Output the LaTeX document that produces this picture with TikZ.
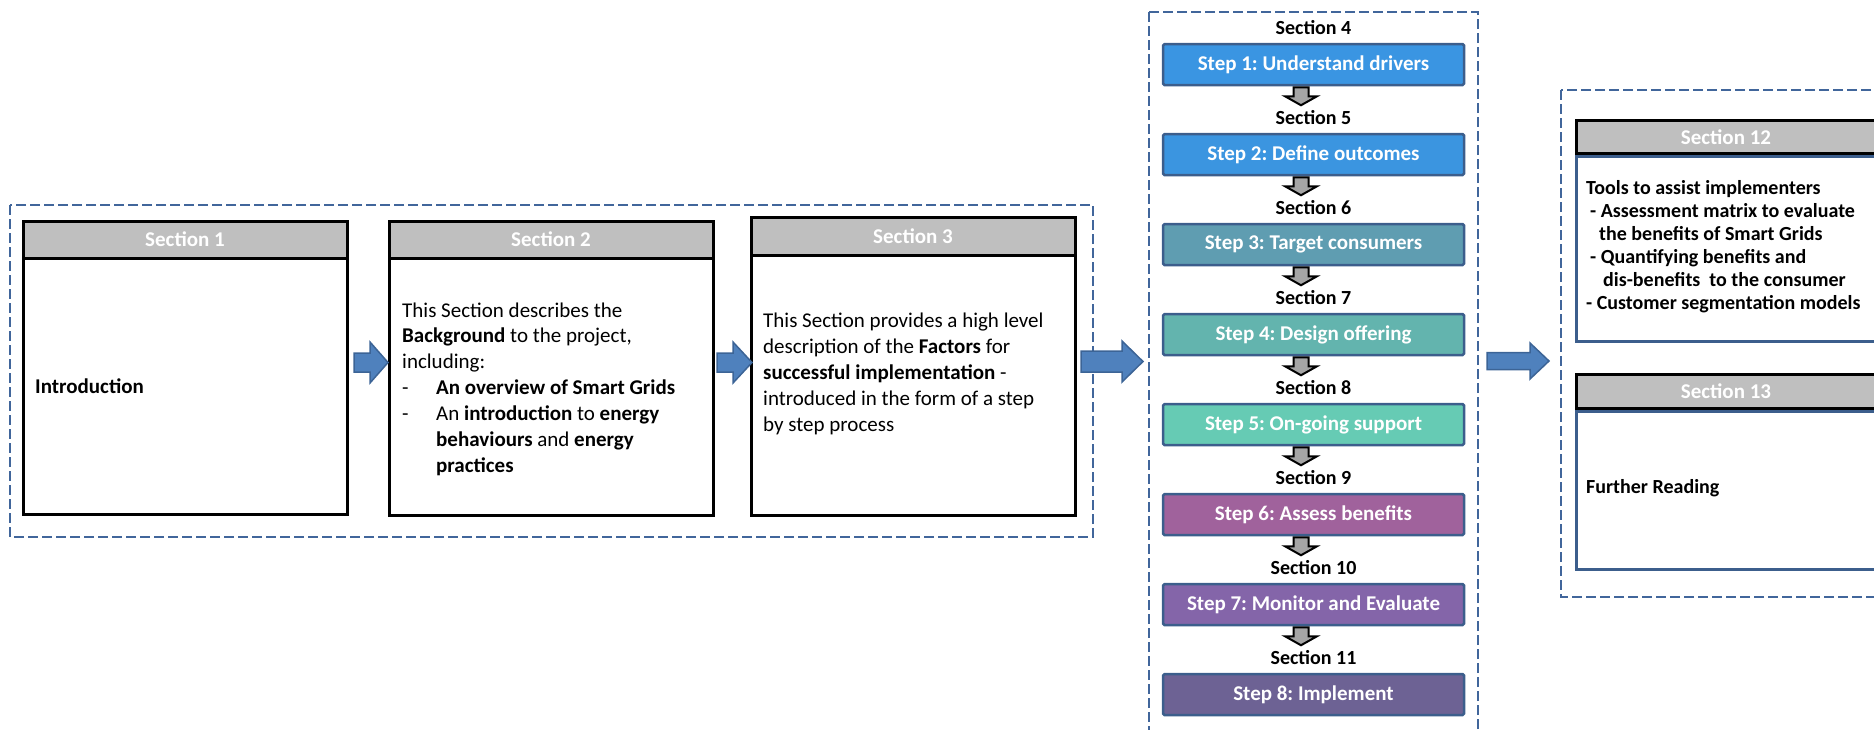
\documentclass[tikz,border=0pt]{standalone}
\usepackage{fontspec}
\setmainfont{Carlito}
\usetikzlibrary{calc}
\frenchspacing

\definecolor{dashblue}{HTML}{41669B}
\definecolor{headgrey}{HTML}{BFBFBF}
\definecolor{arrowblue}{HTML}{4F81BD}
\definecolor{arrowedge}{HTML}{3C6496}
\definecolor{stepedge}{HTML}{3C5E8C}
\definecolor{downgrey}{HTML}{A5A5A5}
\definecolor{stepA}{HTML}{3A95E2}
\definecolor{stepB}{HTML}{3B95E0}
\definecolor{stepC}{HTML}{5F9DB1}
\definecolor{stepD}{HTML}{63B4AE}
\definecolor{stepE}{HTML}{66CBB4}
\definecolor{stepF}{HTML}{A0629C}
\definecolor{stepG}{HTML}{8465A9}
\definecolor{stepH}{HTML}{6D6294}

% right-pointing block arrow: tail x, head base x, tip x, centre y, body half, head half
\newcommand\rblock[6]{%
  \draw[bluearrow] (#1,{#4-#5}) -- (#2,{#4-#5}) -- (#2,{#4-#6}) -- (#3,#4)
    -- (#2,{#4+#6}) -- (#2,{#4+#5}) -- (#1,{#4+#5}) -- cycle;}

\begin{document}
\begin{tikzpicture}[x=1pt,y=-1pt,
  groupbox/.style={draw=dashblue, line width=2.5pt, dash pattern=on 10pt off 4pt},
  secbody/.style={draw=black, line width=3pt, fill=white, inner sep=0pt},
  secbodyblue/.style={draw=stepedge, line width=3pt, fill=white, inner sep=0pt},
  sechead/.style={draw=black, line width=3pt, fill=headgrey, text=white, inner sep=0pt,
    font=\fontsize{21pt}{25pt}\selectfont\bfseries},
  bodytext/.style={anchor=base west, inner sep=0pt, align=left,
    font=\fontsize{21pt}{25.9pt}\selectfont},
  tooltext/.style={anchor=base west, inner sep=0pt, align=left,
    font=\fontsize{20pt}{23pt}\selectfont\bfseries},
  stepbox/.style={draw=stepedge, line width=2.5pt, rounded corners=1.5pt, text=white,
    minimum width=301pt, minimum height=41pt, inner sep=0pt,
    font=\fontsize{21pt}{24pt}\selectfont\bfseries},
  seclabel/.style={anchor=base, inner sep=0pt, font=\fontsize{20pt}{24pt}\selectfont\bfseries},
  bluearrow/.style={fill=arrowblue, draw=arrowedge, line width=1.5pt, line join=miter},
  greyarrow/.style={fill=downgrey, draw=black, line width=2pt, line join=miter}]

\useasboundingbox (0,0) rectangle (1874,729);
\clip (0,0) rectangle (1874,729);

% dashed groups
\draw[groupbox] (10,205) rectangle (1093,537);
\draw[groupbox] (1149,12) rectangle (1478,745);
\draw[groupbox] (1561,90) rectangle (1895,597);

% Section 1
\node[secbody, minimum width=324pt, minimum height=293pt] (s1) at (185,367.5) {};
\node[sechead, minimum width=324pt, minimum height=37pt, anchor=north] (h1) at (s1.north) {Section 1};
\node[bodytext] (t1) at (35,393) {\textbf{Introduction}};

% Section 2 (multi-line text is placed by the baseline of its last line)
\node[secbody, minimum width=324pt, minimum height=294pt] (s2) at (551,368) {};
\node[sechead, minimum width=324pt, minimum height=37pt, anchor=north] (h2) at (s2.north) {Section 2};
\node[bodytext] (t2) at (402,472.4) {This Section describes the\\
  \textbf{Background} to the project,\\
  including:\\
  \makebox[34pt][l]{-}\textbf{An overview of Smart Grids}\\
  \makebox[34pt][l]{-}An \textbf{introduction} to \textbf{energy}\\
  \hspace*{34pt}\textbf{behaviours} and \textbf{energy}\\
  \hspace*{34pt}\textbf{practices}};

% Section 3
\node[secbody, minimum width=324pt, minimum height=298pt] (s3) at (913,366) {};
\node[sechead, minimum width=324pt, minimum height=38pt, anchor=north] (h3) at (s3.north) {Section 3};
\node[bodytext] (t3) at (763,431) {This Section provides a high level\\
  description of the \textbf{Factors} for\\
  \textbf{successful implementation} -\\
  introduced in the form of a step\\
  by step process};

% Sections 4 to 11: the step sequence
\foreach \txt/\col [count=\i] in {Step 1: Understand drivers/stepA,
    Step 2: Define outcomes/stepB, Step 3: Target consumers/stepC,
    Step 4: Design offering/stepD, Step 5: On-going support/stepE,
    Step 6: Assess benefits/stepF, Step 7: Monitor and Evaluate/stepG,
    Step 8: Implement/stepH} {
  \pgfmathsetmacro\yc{64.5+90*(\i-1)}
  \pgfmathtruncatemacro\secno{\i+3}
  \node[stepbox, fill=\col] (st\i) at (1313.5,\yc) {\txt};
  \node[seclabel] (l\secno) at (1313.5,{\yc-30.5}) {Section \secno};
}
\foreach \i in {1,...,7} {
  \begin{scope}[shift={(st\i.south)}]
    \draw[greyarrow] (-20,1) -- (-5,1) -- (-5,10) -- (3.5,10) -- (-12.5,19)
      -- (-28.5,10) -- (-20,10) -- cycle;
  \end{scope}
}

% Section 12
\node[sechead, minimum width=300pt, minimum height=33pt, anchor=north] (h12) at (1726,119) {Section 12};
\node[secbodyblue, minimum width=300pt, minimum height=185pt, anchor=north] (s12) at (h12.south) {};
\node[tooltext] (t12) at (1586,309) {Tools to assist implementers\\
  \hspace*{4pt}- Assessment matrix to evaluate\\
  \hspace*{13pt}the benefits of Smart Grids\\
  \hspace*{4pt}- Quantifying benefits and\\
  \hspace*{17pt}dis-benefits\ \ to the consumer\\
  - Customer segmentation models};

% Section 13
\node[sechead, minimum width=300pt, minimum height=34pt, anchor=north] (h13) at (1726,373) {Section 13};
\node[secbodyblue, minimum width=300pt, minimum height=158pt, anchor=north] (s13) at (h13.south) {};
\node[tooltext] (t13) at (1586,493) {Further Reading};

% flow arrows between the groups
\rblock{354}{370}{388}{362.5}{9.5}{20.5}
\rblock{717}{733}{752}{362.5}{9.5}{20.5}
\rblock{1081}{1122}{1143}{361.5}{10.5}{20.5}
\rblock{1487}{1530}{1549}{361}{8.5}{18}

\end{tikzpicture}
\end{document}
